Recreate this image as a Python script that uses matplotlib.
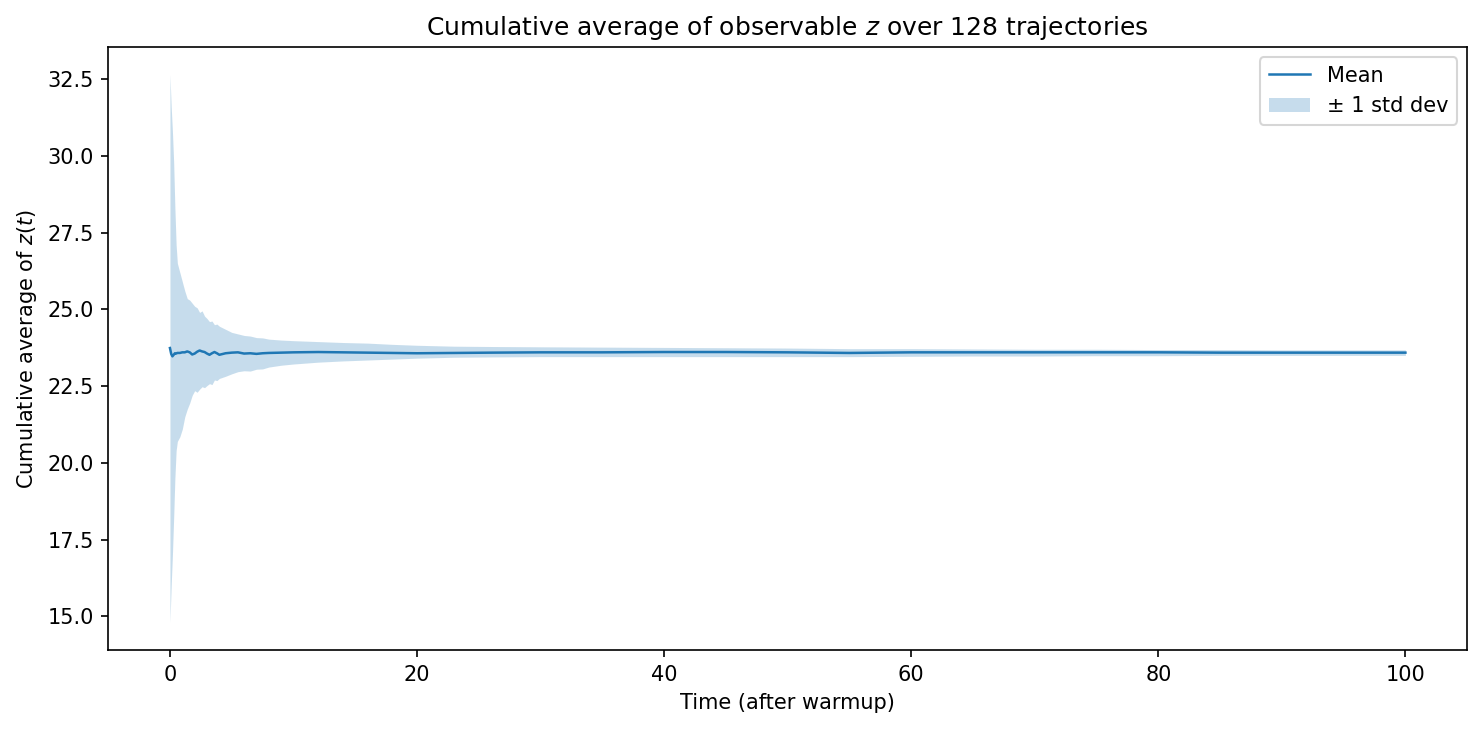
import matplotlib
matplotlib.use("Agg")
import matplotlib.pyplot as plt

# Data
time = [0, 0.1, 0.2, 0.3, 0.4, 0.5, 0.6, 0.8, 1.0, 1.2, 1.4, 1.6, 1.8, 2.0,
        2.2, 2.4, 2.6, 2.8, 3.0, 3.2, 3.4, 3.6, 3.8, 4.0, 4.5, 5, 5.5, 6,
        6.5, 7, 7.5, 8, 9, 10, 12, 14, 16, 18,
        20, 23, 26, 30, 35, 40, 45, 50, 55, 60, 65, 70, 75, 80, 85, 90, 95, 100]

mean = [23.74, 23.55, 23.47, 23.52, 23.57, 23.56, 23.58, 23.58, 23.60, 23.60,
        23.63, 23.60, 23.53, 23.56, 23.62, 23.66, 23.63, 23.61, 23.56, 23.52,
        23.57, 23.61, 23.57, 23.52, 23.57, 23.59, 23.60, 23.56, 23.57, 23.55,
        23.57, 23.58, 23.59, 23.60, 23.61, 23.60, 23.59,
        23.58, 23.57, 23.58, 23.59, 23.60, 23.60, 23.61, 23.61, 23.60, 23.58,
        23.60, 23.60, 23.60, 23.60, 23.60, 23.59, 23.59, 23.59, 23.59]

upper = [32.65, 31.60, 30.80, 29.80, 28.30, 27.10, 26.50, 26.20, 25.90, 25.60,
         25.35, 25.30, 25.20, 25.10, 25.05, 24.90, 24.95, 24.78, 24.70, 24.60,
         24.62, 24.50, 24.52, 24.45, 24.35, 24.25, 24.20, 24.15, 24.13, 24.08,
         24.07, 24.03, 24.00, 23.98, 23.95, 23.92, 23.90,
         23.86, 23.83, 23.80, 23.79, 23.78, 23.77, 23.76, 23.75, 23.74, 23.72,
         23.72, 23.71, 23.70, 23.70, 23.69, 23.69, 23.68, 23.68, 23.68]

lower = [14.80, 16.00, 17.00, 18.20, 19.50, 20.40, 20.70, 20.85, 21.10, 21.50,
         21.75, 21.95, 22.20, 22.35, 22.30, 22.40, 22.48, 22.45, 22.52, 22.58,
         22.55, 22.70, 22.68, 22.75, 22.82, 22.90, 22.97, 23.00, 22.99, 23.05,
         23.06, 23.12, 23.18, 23.22, 23.28, 23.32, 23.35,
         23.38, 23.41, 23.44, 23.45, 23.46, 23.46, 23.46, 23.46, 23.46, 23.46,
         23.47, 23.48, 23.48, 23.49, 23.49, 23.50, 23.50, 23.50, 23.50]

fig, ax = plt.subplots(figsize=(9.88, 4.86), dpi=150)
fig.subplots_adjust(left=0.073, right=0.990, top=0.9355, bottom=0.1084)

ax.plot(time, mean, color="#1f77b4", lw=1.2, label="Mean")
ax.fill_between(time, lower, upper, color="#1f77b4", alpha=0.25, lw=0,
                label="± 1 std dev")

ax.set_title("Cumulative average of observable $z$ over 128 trajectories")
ax.set_xlabel("Time (after warmup)")
ax.set_ylabel("Cumulative average of $z(t)$")
ax.legend(loc="upper right")

fig.savefig("out.png", dpi=150)
